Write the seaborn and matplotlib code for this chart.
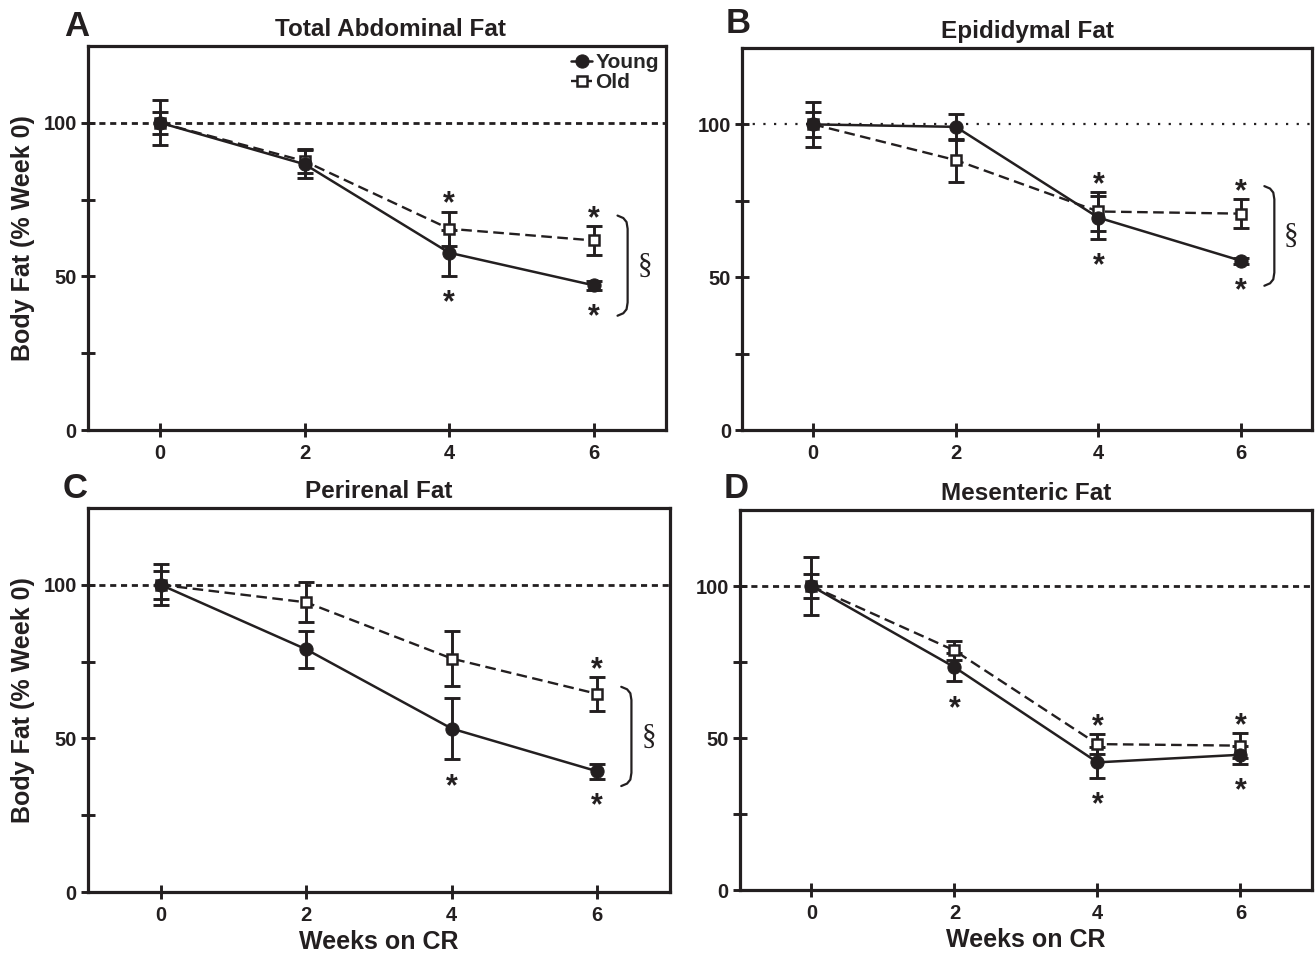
import numpy as np
import pandas as pd
import matplotlib
matplotlib.use("Agg")
import matplotlib.pyplot as plt
import seaborn as sns

sns.set_theme(style="ticks")
plt.rcParams['font.family'] = ['Liberation Sans', 'DejaVu Sans']
plt.rcParams['font.weight'] = 'bold'

INK = '#231f20'

weeks = [0, 2, 4, 6]

# Total abdominal fat
a_young = [100, 86.5, 57.7, 47.1]
a_young_err = [3.5, 4.5, 7.5, 1.5]
a_old = [100, 87.5, 65.5, 61.7]
a_old_err = [7.3, 4.0, 5.6, 4.7]
a_young_star = [0, 0, 1, 1]
a_old_star = [0, 0, 1, 1]

# Epididymal fat
b_young = [100, 99.2, 69.5, 55.4]
b_young_err = [4.0, 4.3, 7.0, 1.0]
b_old = [100, 88.3, 71.5, 70.8]
b_old_err = [7.3, 7.0, 6.5, 4.7]
b_young_star = [0, 0, 1, 1]
b_old_star = [0, 0, 1, 1]

# Perirenal fat
c_young = [100, 79.0, 53.2, 39.3]
c_young_err = [4.5, 6.0, 10.0, 2.5]
c_old = [100, 94.3, 76.0, 64.5]
c_old_err = [6.7, 6.5, 9.0, 5.5]
c_young_star = [0, 0, 1, 1]
c_old_star = [0, 0, 0, 1]

# Mesenteric fat
d_young = [100, 73.3, 42.0, 44.5]
d_young_err = [4.1, 4.7, 5.0, 3.0]
d_old = [100, 78.8, 48.0, 47.5]
d_old_err = [9.4, 3.2, 3.3, 4.0]
d_young_star = [0, 1, 1, 1]
d_old_star = [0, 0, 1, 1]

panels = [
    dict(letter='A', title='Total Abdominal Fat', young=a_young, yerr=a_young_err, old=a_old, oerr=a_old_err,
         ystar=a_young_star, ostar=a_old_star, bracket=(37.5, 69.5), ref='dash',
         pos=[0.0669, 0.5502, 0.4395, 0.4017], title_x=0.524, letter_xy=(0.002, 1.008)),
    dict(letter='B', title='Epididymal Fat', young=b_young, yerr=b_young_err, old=b_old, oerr=b_old_err,
         ystar=b_young_star, ostar=b_old_star, bracket=(47.5, 79.5), ref='dot',
         pos=[0.5643, 0.5502, 0.4335, 0.3996], title_x=0.5, letter_xy=(0.016, 1.02)),
    dict(letter='C', title='Perirenal Fat', young=c_young, yerr=c_young_err, old=c_old, oerr=c_old_err,
         ystar=c_young_star, ostar=c_old_star, bracket=(34.8, 66.5), ref='dash',
         pos=[0.0669, 0.0669, 0.4426, 0.4017], title_x=0.5, letter_xy=(0.0, 1.008)),
    dict(letter='D', title='Mesenteric Fat', young=d_young, yerr=d_young_err, old=d_old, oerr=d_old_err,
         ystar=d_young_star, ostar=d_old_star, bracket=None, ref='dash',
         pos=[0.5627, 0.0690, 0.4350, 0.3975], title_x=0.5, letter_xy=(0.016, 1.012)),
]

fig = plt.figure(figsize=(13.15, 9.56), dpi=100)

for i, p in enumerate(panels):
    ax = fig.add_axes(p['pos'])
    df = pd.DataFrame({'week': weeks * 2,
                       'fat': p['young'] + p['old'],
                       'err': p['yerr'] + p['oerr'],
                       'group': ['Young'] * 4 + ['Old'] * 4})

    # reference line at 100 %
    if p['ref'] == 'dot':
        ax.axhline(100, color=INK, lw=1.6, ls=(0, (1, 3.8)), zorder=1)
    else:
        ax.axhline(100, color=INK, lw=2.0, ls=(0, (2.2, 1.7)), zorder=1)

    old = df[df.group == 'Old']
    young = df[df.group == 'Young']
    for g in (old, young):
        ax.errorbar(g.week, g.fat, yerr=g.err, fmt='none', ecolor=INK, elinewidth=2.1,
                    capsize=6, capthick=2.1, zorder=2)
    sns.lineplot(data=old, x='week', y='fat', ax=ax, color=INK, lw=1.7, linestyle=(0, (4.5, 2.3)),
                 marker='s', markersize=7.5, markerfacecolor='white', markeredgecolor=INK,
                 markeredgewidth=1.8, label='Old', zorder=3, errorbar=None)
    sns.lineplot(data=young, x='week', y='fat', ax=ax, color=INK, lw=1.8, linestyle='-',
                 marker='o', markersize=9.5, markerfacecolor=INK, markeredgecolor=INK,
                 label='Young', zorder=4, errorbar=None)

    # significance stars (centred 5 units above / 6 units below the error bars)
    for w, v, e, s in zip(weeks, p['old'], p['oerr'], p['ostar']):
        if s:
            ax.annotate('*', (w, v + e + 5.2), xytext=(0, -6.5), textcoords='offset points',
                        ha='center', va='center', fontsize=22, color=INK, fontweight='bold')
    for w, v, e, s in zip(weeks, p['young'], p['yerr'], p['ystar']):
        if s:
            ax.annotate('*', (w, v - e - 6.0), xytext=(0, -6.5), textcoords='offset points',
                        ha='center', va='center', fontsize=22, color=INK, fontweight='bold')

    if p['bracket'] is not None:
        lo, hi = p['bracket']
        xb = 6.47
        bx = [xb - 0.14, xb - 0.06, xb - 0.015, xb, xb, xb - 0.015, xb - 0.06, xb - 0.14]
        by = [hi + 0.3, hi - 0.5, hi - 1.8, hi - 4.0, lo + 4.0, lo + 1.8, lo + 0.5, lo - 0.3]
        ax.plot(bx, by, color=INK, lw=1.6, solid_capstyle='round', solid_joinstyle='round')
        ax.text(xb + 0.24, (lo + hi) / 2, '\u00a7', ha='center', va='center', fontsize=21,
                fontweight='normal', family=['Liberation Serif'], color=INK)

    ax.set_xlim(-1, 7)
    ax.set_ylim(0, 125)
    ax.set_xticks(weeks)
    ax.set_yticks([0, 50, 100])
    ax.set_yticks([25, 75], minor=True)
    ax.tick_params(axis='both', which='both', direction='inout', length=10, width=2.1, colors=INK,
                   labelsize=14.5, pad=3)
    ax.tick_params(axis='x', pad=5)
    for lab in ax.get_xticklabels() + ax.get_yticklabels():
        lab.set_fontweight('bold')
    for sp in ax.spines.values():
        sp.set_linewidth(2.3)
        sp.set_color(INK)

    ax.set_title(p['title'], fontsize=17.5, fontweight='bold', color=INK, pad=7, x=p['title_x'])
    lx, ly = p['letter_xy']
    ax.text(lx, ly, p['letter'], transform=ax.transAxes, fontsize=25, fontweight='bold',
            color=INK, ha='right', va='bottom')

    if i % 2 == 0:
        ax.set_ylabel('Body Fat (% Week 0)', fontsize=18, fontweight='bold', color=INK, labelpad=6)
    else:
        ax.set_ylabel('')
    if i >= 2:
        ax.set_xlabel('Weeks on CR', fontsize=18, fontweight='bold', color=INK, labelpad=4)
    else:
        ax.set_xlabel('')

    if i == 0:
        h, l = ax.get_legend_handles_labels()
        order = [l.index('Young'), l.index('Old')]
        ax.legend([h[k] for k in order], [l[k] for k in order], loc='upper right', frameon=False,
                  handlelength=1.0, handletextpad=0.15, borderaxespad=0.15, labelspacing=0.05,
                  borderpad=0.2, prop={'size': 15, 'weight': 'bold'})
    else:
        leg = ax.get_legend()
        if leg is not None:
            leg.remove()

fig.savefig('out.png', dpi=100)
